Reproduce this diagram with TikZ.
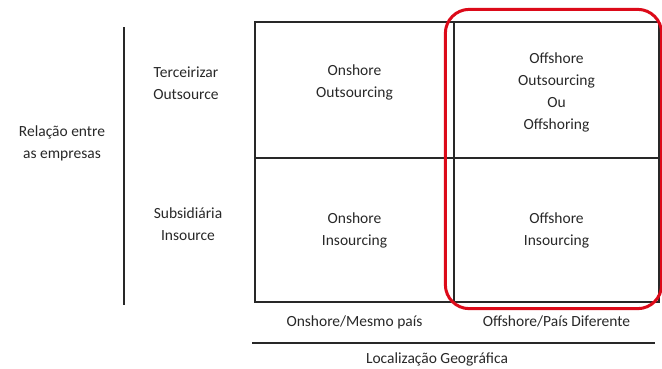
\documentclass[tikz,border=0pt]{standalone}
\usepackage{fontspec}
\setmainfont{Carlito}
\usetikzlibrary{positioning}

\definecolor{inkgray}{RGB}{40,40,40}
\definecolor{markred}{RGB}{220,10,25}

\begin{document}
\begin{tikzpicture}[x=1pt,y=-1pt]
				\tikzstyle{cell} = [rectangle, draw=inkgray, line width=1.3pt, minimum width=199pt, inner sep=0pt]
				\tikzstyle{txt} = [text=inkgray, align=center, font=\fontsize{15.5}{22}\selectfont, inner sep=0pt]
				\tikzstyle{axis} = [draw=inkgray, line width=1.6pt]
				\tikzstyle{redbox} = [draw=markred, line width=3pt, rounded corners=24pt]
				\useasboundingbox (0,0) rectangle (662,368);

				% quadrantes
				\node [cell, minimum height=136pt] (OnOut) at (354.5,90) {};
				\node [cell, minimum height=136pt, minimum width=205pt] (OffOut) at (556.5,90) {};
				\node [cell, minimum height=144pt] (OnIn) at (354.5,230) {};
				\node [cell, minimum height=144pt, minimum width=205pt] (OffIn) at (556.5,230) {};
				\node [txt] (OnOutTxt) at ([yshift=8pt]OnOut.center) {Onshore\\Outsourcing};
				\node [txt] (OffOutTxt) at ([yshift=-2pt]OffOut.center) {Offshore\\Outsourcing\\Ou\\Offshoring};
				\node [txt] (OnInTxt) at (OnIn.center) {Onshore\\Insourcing};
				\node [txt] (OffInTxt) at (OffIn.center) {Offshore\\Insourcing};

				% destaque offshore
				\draw [redbox] ([xshift=-8pt,yshift=12pt]OffOut.north west) rectangle ([xshift=2pt,yshift=-6pt]OffIn.south east);

				% eixo vertical
				\coordinate (VTop) at (124,27);
				\coordinate (VBot) at (124,305);
				\path [axis] (VTop) -- (VBot);
				\node [txt] (Rel) at (62,143) {Relação entre\\as empresas};
				\node [txt] (Terc) at (186,83) {Terceirizar\\Outsource};
				\node [txt] (Subs) at (188,224) {Subsidiária\\Insource};

				% eixo horizontal
				\node [txt, below=13pt of OnIn.south] (Mesmo) {Onshore/Mesmo país};
				\node [txt, below=13pt of OffIn.south] (Dif) {Offshore/País Diferente};
				\coordinate (HLeft) at (252,343);
				\coordinate (HRight) at (655,343);
				\path [axis] (HLeft) -- (HRight);
				\node [txt, below=10pt of HLeft, anchor=north, xshift=185pt] (Loc) {Localização Geográfica};
			\end{tikzpicture}
\end{document}
